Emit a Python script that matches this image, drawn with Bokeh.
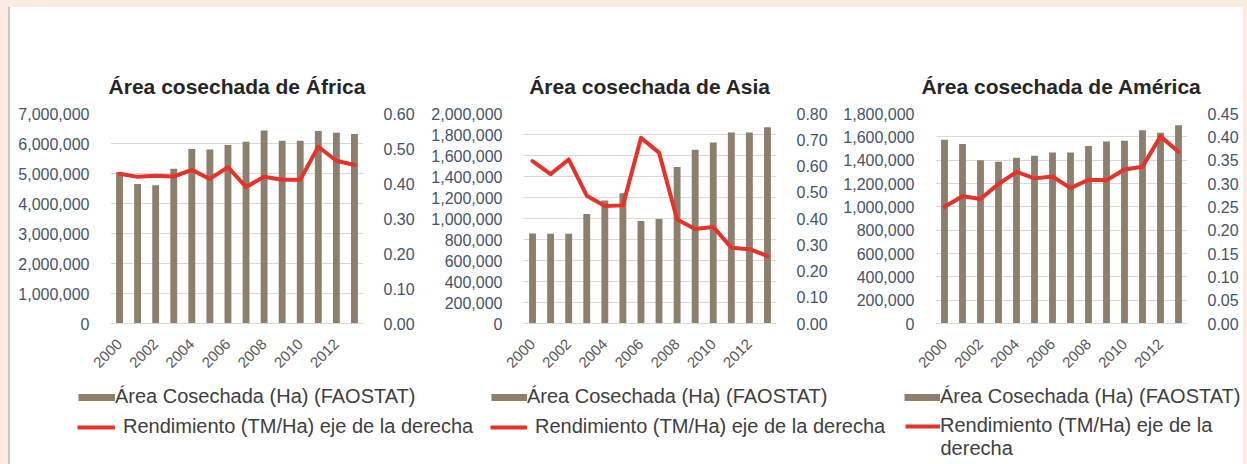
import math
from bokeh.plotting import figure
from bokeh.models import (Range1d, LinearAxis, FixedTicker, NumeralTickFormatter,
                          Legend, LegendItem, GlobalInlineStyleSheet, Spacer, Label)
from bokeh.core.properties import value
from bokeh.layouts import column, row
from bokeh.embed import file_html
from bokeh.resources import INLINE

# ---------------- data ----------------
years = [2000, 2001, 2002, 2003, 2004, 2005, 2006, 2007, 2008, 2009, 2010, 2011, 2012, 2013]
year_labels = [2000, 2002, 2004, 2006, 2008, 2010, 2012]

africa_area = [5050000, 4650000, 4610000, 5160000, 5820000, 5800000, 5950000,
               6060000, 6430000, 6090000, 6090000, 6420000, 6360000, 6320000]
africa_yield = [0.428, 0.419, 0.422, 0.420, 0.439, 0.413, 0.447,
                0.390, 0.419, 0.411, 0.411, 0.505, 0.465, 0.453]

asia_area = [857000, 854000, 854000, 1042000, 1171000, 1240000, 976000,
             995000, 1491000, 1655000, 1724000, 1818000, 1818000, 1868000]
asia_yield = [0.619, 0.569, 0.625, 0.487, 0.448, 0.450, 0.707,
              0.651, 0.396, 0.360, 0.368, 0.289, 0.283, 0.257]

america_area = [1575000, 1538000, 1400000, 1386000, 1420000, 1437000, 1465000,
                1465000, 1521000, 1561000, 1566000, 1656000, 1634000, 1699000]
america_yield = [0.250, 0.2725, 0.267, 0.299, 0.325, 0.311, 0.315,
                 0.290, 0.308, 0.307, 0.330, 0.336, 0.401, 0.368]

titles = ["Área cosechada de África", "Área cosechada de Asia", "Área cosechada de América"]
bar_label = "Área Cosechada (Ha) (FAOSTAT)"
line_label = "Rendimiento (TM/Ha) eje de la derecha"
line_label_part1 = "Rendimiento (TM/Ha) eje de la"
line_label_part2 = "derecha"

# axis scales (max, step) for left and right axes
left_axes = [(7000000, 1000000), (2000000, 200000), (1800000, 200000)]
right_axes = [(0.60, 0.10), (0.80, 0.10), (0.45, 0.05)]

# ---------------- style ----------------
FONT = "Liberation Sans"
BAR = "#8C7F6D"
RED = "#E5332A"
GRID = "#D9D9D9"
YLAB = "#44546A"
XLAB = "#595959"
LEGTXT = "#404040"
PEACH = "#FCEBE1"

CH_H = 368


def make_chart(title, area, yld, left, right, width, bl, br):
    lmax, lstep = left
    rmax, rstep = right
    p = figure(width=width, height=CH_H, output_backend="svg", toolbar_location=None,
               title=title,
               x_range=Range1d(1999.5, 2013.5), y_range=Range1d(0, lmax),
               min_border_left=bl, min_border_right=br, min_border_top=106,
               min_border_bottom=50, outline_line_color=None,
               background_fill_color="white", border_fill_color="white")
    p.title.align = "center"
    p.title.text_font = FONT
    p.title.text_font_size = "21px"
    p.title.text_font_style = "bold"
    p.title.text_color = "#262626"
    p.title.standoff = 32

    p.extra_y_ranges = {"y2": Range1d(0, rmax)}

    lticks = [i * lstep for i in range(int(round(lmax / lstep)) + 1)]
    rticks = [round(i * rstep, 2) for i in range(int(round(rmax / rstep)) + 1)]

    # bottom axis
    xa = p.xaxis[0]
    xa.ticker = FixedTicker(ticks=year_labels)
    xa.formatter = NumeralTickFormatter(format="0")
    xa.major_label_orientation = math.pi / 4
    xa.major_tick_line_color = None
    xa.minor_tick_line_color = None
    xa.axis_line_color = GRID
    xa.major_label_text_font = FONT
    xa.major_label_text_font_size = "15px"
    xa.major_label_text_color = XLAB
    xa.major_label_standoff = 12
    p.xgrid.visible = False

    # left axis
    ya = p.yaxis[0]
    ya.ticker = FixedTicker(ticks=lticks)
    ya.formatter = NumeralTickFormatter(format="0,0")
    ya.axis_line_color = None
    ya.major_tick_line_color = None
    ya.minor_tick_line_color = None
    ya.major_label_text_font = FONT
    ya.major_label_text_font_size = "16px"
    ya.major_label_text_color = YLAB
    ya.major_label_standoff = 15
    p.ygrid.ticker = FixedTicker(ticks=lticks)
    p.ygrid.grid_line_color = GRID

    # right axis
    ra = LinearAxis(y_range_name="y2", ticker=FixedTicker(ticks=rticks),
                    formatter=NumeralTickFormatter(format="0.00"))
    ra.axis_line_color = None
    ra.major_tick_line_color = None
    ra.minor_tick_line_color = None
    ra.major_label_text_font = FONT
    ra.major_label_text_font_size = "16px"
    ra.major_label_text_color = YLAB
    ra.major_label_standoff = 14
    p.add_layout(ra, "right")

    p.vbar(x=years, top=area, width=0.38, fill_color=BAR, line_color=None)
    p.line(x=years, y=yld, y_range_name="y2", line_color=RED, line_width=4,
           line_join="round", line_cap="round")
    return p


p1 = make_chart(titles[0], africa_area, africa_yield, left_axes[0], right_axes[0], 410, 100, 57)
p2 = make_chart(titles[1], asia_area, asia_yield, left_axes[1], right_axes[1], 415, 103, 59)
p3 = make_chart(titles[2], america_area, america_yield, left_axes[2], right_axes[2], 408, 100, 56)

# ---------------- legends ----------------
LG_H = 89
lf = figure(width=1233, height=LG_H, output_backend="svg", toolbar_location=None,
            x_range=Range1d(0, 1), y_range=Range1d(0, 1), min_border=0,
            x_axis_location=None, y_axis_location=None, outline_line_color=None,
            background_fill_color="white", border_fill_color="white")
lf.grid.visible = False
# legend-only renderers: their points lie outside the visible range
bar_r = lf.line(x=[-5, -4], y=[-5, -5], line_color=BAR, line_width=7)
line_r = lf.line(x=[-5, -4], y=[-5, -5], line_color=RED, line_width=4)


def add_leg(label, r, sx, vy, gw, standoff):
    leg = Legend(items=[LegendItem(label=value(label), renderers=[r])], location=(sx, vy),
                 glyph_width=gw, glyph_height=22, label_height=22, label_standoff=standoff,
                 padding=0, margin=0, spacing=0, border_line_color=None,
                 background_fill_alpha=0, label_text_font=FONT,
                 label_text_font_size="20px", label_text_color=LEGTXT)
    lf.add_layout(leg)


add_leg(bar_label, bar_r, 68, 56, 37, 0)
add_leg(line_label, line_r, 67, 26, 38, 8)
add_leg(bar_label, bar_r, 481, 56, 36, 0)
add_leg(line_label, line_r, 480, 26, 37, 8)
add_leg(bar_label, bar_r, 894, 56, 36, 0)
add_leg(line_label_part1, line_r, 895, 27, 35, 0)
lf.add_layout(Label(x=930, y=17, x_units="screen", y_units="screen", text=line_label_part2,
                    text_baseline="middle", text_font=FONT, text_font_size="20px",
                    text_color=LEGTXT))

content = column(row(p1, p2, p3), lf, styles={"background-color": "white"})
edge = Spacer(width=2, height=457, styles={"background-color": "#C9C9C9"})
layout = column(Spacer(width=1243, height=7),
                row(Spacer(width=8, height=457), edge, content),
                stylesheets=[GlobalInlineStyleSheet(css="body { background-color: %s; }" % PEACH)])

open("out.html", "w").write(file_html(layout, INLINE))
